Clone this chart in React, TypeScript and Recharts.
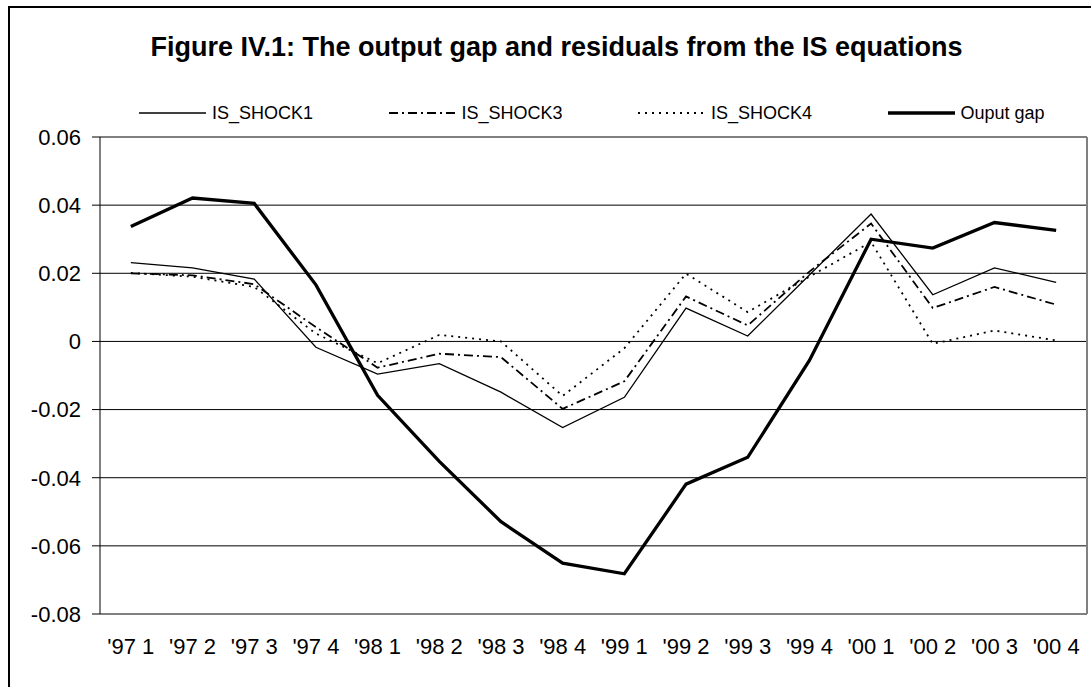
import React from 'react';
import { LineChart, Line, XAxis, YAxis, CartesianGrid, ReferenceLine, Legend } from 'recharts';

const FONT = '"Liberation Sans", Arial, sans-serif';

const quarters = ["'97 1", "'97 2", "'97 3", "'97 4", "'98 1", "'98 2", "'98 3", "'98 4", "'99 1", "'99 2", "'99 3", "'99 4", "'00 1", "'00 2", "'00 3", "'00 4"];

const isShock1 = [0.0231, 0.0216, 0.0183, -0.0017, -0.0096, -0.0065, -0.0149, -0.0253, -0.0164, 0.0098, 0.0016, 0.0195, 0.0374, 0.0137, 0.0216, 0.0173];
const isShock3 = [0.0200, 0.0194, 0.0168, 0.0042, -0.0077, -0.0036, -0.0046, -0.0198, -0.0117, 0.0132, 0.0047, 0.0205, 0.0346, 0.0098, 0.0160, 0.0108];
const isShock4 = [0.0201, 0.0190, 0.0160, 0.0023, -0.0064, 0.0019, 0.0000, -0.0160, -0.0020, 0.0199, 0.0086, 0.0190, 0.0292, -0.0007, 0.0032, 0.0003];
const outputGap = [0.0337, 0.0421, 0.0405, 0.0166, -0.0158, -0.0352, -0.0529, -0.0651, -0.0682, -0.0419, -0.0340, -0.0056, 0.0300, 0.0274, 0.0349, 0.0326];

const yTicks = [-0.08, -0.06, -0.04, -0.02, 0, 0.02, 0.04, 0.06];

const title = 'Figure IV.1: The output gap and residuals from the IS equations';

const series = [
  { key: 'shock1', name: 'IS_SHOCK1', width: 1.3, dash: undefined as string | undefined },
  { key: 'shock3', name: 'IS_SHOCK3', width: 1.8, dash: '9 4 2 4' },
  { key: 'shock4', name: 'IS_SHOCK4', width: 1.8, dash: '2 5' },
  { key: 'gap', name: 'Ouput gap', width: 3.3, dash: undefined as string | undefined },
];

const data = quarters.map((q, i) => ({
  pos: i + 0.5,
  label: q,
  shock1: isShock1[i],
  shock3: isShock3[i],
  shock4: isShock4[i],
  gap: outputGap[i],
}));

const boundaryTicks = quarters.map((_, i) => i).concat([quarters.length]);
const centerTicks = quarters.map((_, i) => i + 0.5);

const LegendBox = () => (
  <div style={{ position: 'relative', width: 1091, height: 26, fontFamily: FONT }}>
    {series.map((s, i) => (
      <div
        key={s.key}
        style={{
          position: 'absolute',
          left: 139 + i * 249.5,
          top: 0,
          height: 26,
          display: 'flex',
          alignItems: 'center',
          whiteSpace: 'nowrap',
        }}
      >
        <svg width={67} height={26} style={{ display: 'block' }}>
          <line x1={0} y1={13} x2={67} y2={13} stroke="#000" strokeWidth={s.width} strokeDasharray={s.dash} />
        </svg>
        <span style={{ fontSize: 18, marginLeft: 6, color: '#000', lineHeight: '26px' }}>{s.name}</span>
      </div>
    ))}
  </div>
);

export default function App() {
  return (
    <div style={{ position: 'absolute', left: 0, top: 0, width: 1091, height: 687, overflow: 'hidden', background: '#fff', fontFamily: FONT }}>
      <div style={{ position: 'absolute', left: 8, top: 6, width: 1200, height: 800, borderLeft: '2px solid #000', borderTop: '2px solid #000' }} />
      <div
        style={{
          position: 'absolute',
          left: 0,
          top: 34,
          width: 1113,
          textAlign: 'center',
          fontSize: 27,
          fontWeight: 'bold',
          lineHeight: '27px',
          whiteSpace: 'nowrap',
          color: '#000',
        }}
      >
        {title}
      </div>
      <div style={{ position: 'absolute', left: 0, top: 0 }}>
        <LineChart width={1091} height={687} data={data} margin={{ top: 137, right: 4, bottom: 0, left: 0 }}>
          <CartesianGrid xAxisId="grid" vertical={false} horizontal={true} stroke="#000" strokeWidth={1} />
          <XAxis
            xAxisId="grid"
            type="number"
            dataKey="pos"
            domain={[0, 16]}
            ticks={boundaryTicks}
            interval={0}
            tick={false}
            tickSize={8}
            height={0}
            axisLine={{ stroke: '#000' }}
            tickLine={{ stroke: '#000' }}
            allowDataOverflow
          />
          <XAxis
            xAxisId="lab"
            type="number"
            dataKey="pos"
            domain={[0, 16]}
            ticks={centerTicks}
            interval={0}
            tickSize={8}
            tickMargin={16}
            height={73}
            axisLine={false}
            tickLine={false}
            tick={{ fill: '#000', fontSize: 22, fontFamily: FONT }}
            tickFormatter={(v: number) => quarters[Math.floor(v)]}
            allowDataOverflow
          />
          <YAxis
            type="number"
            domain={[-0.08, 0.06]}
            ticks={yTicks}
            interval={0}
            width={100}
            tickSize={8}
            tickMargin={11}
            axisLine={{ stroke: '#000' }}
            tickLine={{ stroke: '#000' }}
            tick={{ fill: '#000', fontSize: 22, fontFamily: FONT }}
            tickFormatter={(v: number) => String(v)}
            allowDataOverflow
          />
          <ReferenceLine xAxisId="grid" x={16} stroke="#808080" strokeWidth={2} />
          <Legend
            layout="vertical"
            align="center"
            verticalAlign="middle"
            wrapperStyle={{ top: 100, left: 0, width: 1091, height: 26 }}
            content={() => <LegendBox />}
          />
          {series.map((s) => (
            <Line
              key={s.key}
              xAxisId="grid"
              type="linear"
              dataKey={s.key}
              name={s.name}
              stroke="#000"
              strokeWidth={s.width}
              strokeDasharray={s.dash}
              dot={false}
              activeDot={false}
              isAnimationActive={false}
            />
          ))}
        </LineChart>
      </div>
    </div>
  );
}
